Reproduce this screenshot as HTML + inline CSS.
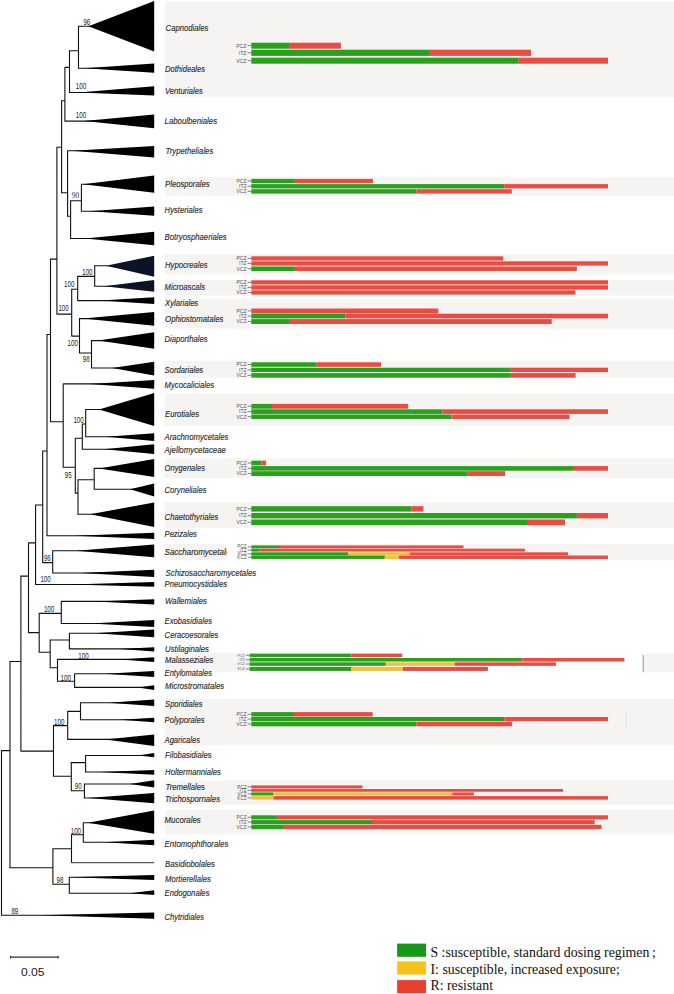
<!DOCTYPE html><html><head><meta charset="utf-8"><title>Phylogeny</title><style>
html,body{margin:0;padding:0;background:#fff;width:674px;height:994px;overflow:hidden}
svg{display:block}
.lb{font-family:"Liberation Sans",sans-serif;font-style:italic;font-size:9.7px;fill:#2a2a2a;stroke:#2a2a2a;stroke-width:0.15px}
.bs{font-family:"Liberation Sans",sans-serif;font-size:8.3px;fill:#222}
.bl{font-family:"Liberation Sans",sans-serif;fill:#555}
.lg{font-family:"Liberation Serif",serif;font-size:13.8px;fill:#111}
</style></head><body>
<svg width="674" height="994" viewBox="0 0 674 994">
<rect x="165" y="1.3" width="509" height="95.5" fill="#f5f4f2"/>
<rect x="165" y="177.1" width="509" height="18.7" fill="#f5f4f2"/>
<rect x="165" y="254" width="509" height="20.5" fill="#f5f4f2"/>
<rect x="165" y="279.9" width="509" height="15.7" fill="#f5f4f2"/>
<rect x="165" y="298.6" width="509" height="29.9" fill="#f5f4f2"/>
<rect x="165" y="360.9" width="509" height="17.1" fill="#f5f4f2"/>
<rect x="165" y="393.3" width="509" height="32.7" fill="#f5f4f2"/>
<rect x="165" y="458.5" width="509" height="19.5" fill="#f5f4f2"/>
<rect x="165" y="502" width="509" height="25.8" fill="#f5f4f2"/>
<rect x="165" y="544" width="509" height="16.3" fill="#f5f4f2"/>
<rect x="165" y="652.7" width="84.5" height="19.6" fill="#f5f4f2"/>
<rect x="643.5" y="653.6" width="30.5" height="18.7" fill="#f5f4f2"/>
<rect x="165" y="699" width="509" height="46.3" fill="#f5f4f2"/>
<rect x="165" y="780.5" width="509" height="24" fill="#f5f4f2"/>
<rect x="165" y="809.8" width="509" height="24.4" fill="#f5f4f2"/>
<rect x="226.5" y="544" width="24.8" height="16.3" fill="#fff"/>
<path d="M1.5 750.1V915.7M10 661V868.3M20.9 575.6V751.6M28.5 542.4V633.1M35.6 504.5V585M42.7 450.5V563.1M47 334V536.3M50.5 258.6V422.2M56.9 146.7V314.6M61.6 100.2V193.3M64.9 66.9V121.6M69.5 50.2V93M78.5 25.8V68.7M67.6 150.3V216.8M70.6 200.3V239M81.4 183.7V211.8M71.7 288.8V336.6M77.7 275.9V301.1M94.7 265.3V286.8M79.5 318.1V353.5M91.5 340.1V368.5M63.2 383.4V467.8M75.3 437.8V493.6M82.3 423.5V449.7M85.7 409V437.2M78 479.3V514.7M94.2 467.9V489.8M52.7 550.2V573.5M39.2 612.9V652.8M61.3 600.9V624M50.2 639.5V668.2M69.4 632.8V649.4M57.5 658.9V681.7M74.6 673.3V687.9M53.5 725.1V776.8M67.7 710.9V739.9M80.5 702.3V720.2M71.3 762.1V791.3M85.6 755V772.5M84.4 783.5V798.5M52.9 848.3V884.8M71.5 834.3V863.1M83.3 822.2V842.8M69.3 876.7V893.8M1.5 750.6H10M10 661.5H20.9M10 867.8H52.9M20.9 576.1H28.5M20.9 751.1H53.5M28.5 542.9H35.6M28.5 632.6H39.2M35.6 505H42.7M42.7 451H47M42.7 562.6H52.7M47 334.5H50.5M50.5 259.1H56.9M50.5 421.7H63.2M56.9 147.2H61.6M56.9 314.1H71.7M61.6 100.7H64.9M61.6 192.8H67.6M64.9 67.4H69.5M69.5 50.7H78.5M67.6 216.3H70.6M70.6 200.8H81.4M71.7 289.3H77.7M71.7 336.1H79.5M77.7 276.4H94.7M79.5 353H91.5M63.2 467.3H75.3M75.3 438.3H82.3M75.3 493.1H78M82.3 424H85.7M78 479.8H94.2M39.2 613.4H61.3M39.2 652.3H50.2M50.2 640H69.4M50.2 667.7H57.5M57.5 681.2H74.6M53.5 725.6H67.7M53.5 776.3H71.3M67.7 711.4H80.5M71.3 762.6H85.6M71.3 790.8H84.4M52.9 848.8H71.5M52.9 884.3H69.3M71.5 834.8H83.3M78.5 26.3H154.2M78.5 68.2H154.2M69.5 92.5H154.2M64.9 121.1H154.2M67.6 150.8H154.2M81.4 184.2H154.2M81.4 211.3H154.2M70.6 238.5H154.2M94.7 265.8H154.2M94.7 286.3H154.2M77.7 300.6H154.2M79.5 318.6H154.2M91.5 340.6H154.2M91.5 368H154.2M63.2 383.9H154.2M85.7 409.5H154.2M85.7 436.7H154.2M82.3 449.2H154.2M94.2 468.4H154.2M94.2 489.3H154.2M78 514.2H154.2M47 535.8H154.2M52.7 550.7H154.2M52.7 573H154.2M35.6 584.5H154.2M61.3 601.4H154.2M61.3 623.5H154.2M69.4 633.3H154.2M69.4 648.9H154.2M57.5 659.4H154.2M74.6 673.8H154.2M74.6 687.4H154.2M80.5 702.8H154.2M80.5 719.7H154.2M67.7 739.4H154.2M85.6 755.5H154.2M85.6 772H154.2M84.4 784H154.2M84.4 798H154.2M83.3 822.7H154.2M83.3 842.3H154.2M69.3 877.2H154.2M69.3 893.3H154.2M1.5 915.2H154.2" stroke="#111" stroke-width="1.1" fill="none"/>
<path d="M71.5 862.6H154.2" stroke="#555" stroke-width="1.3" fill="none"/>
<polygon points="88.4,26.3 154.2,0.9 154.2,51.5" fill="#000"/>
<polygon points="84,68.2 154.2,63.4 154.2,72.7" fill="#000"/>
<polygon points="78,92.5 154.2,86.2 154.2,95.5" fill="#000"/>
<polygon points="84,121.1 154.2,114.5 154.2,128.2" fill="#000"/>
<polygon points="72,150.8 154.2,146 154.2,157.5" fill="#000"/>
<polygon points="83,184.2 154.2,175.4 154.2,192.7" fill="#000"/>
<polygon points="90,211.3 154.2,206.5 154.2,215.8" fill="#000"/>
<polygon points="85,238.5 154.2,231.7 154.2,245.2" fill="#000"/>
<polygon points="106,265.8 154.2,255.7 154.2,276.7" fill="#0b1326"/>
<polygon points="104,286.3 154.2,280 154.2,291.8" fill="#0b1326"/>
<polygon points="100,300.6 154.2,297.2 154.2,304" fill="#000"/>
<polygon points="83,318.6 154.2,312 154.2,325.7" fill="#000"/>
<polygon points="98,340.6 154.2,332.2 154.2,348.8" fill="#000"/>
<polygon points="112,368 154.2,361.8 154.2,375.5" fill="#000"/>
<polygon points="90,383.9 154.2,380 154.2,388.7" fill="#000"/>
<polygon points="99,409.5 154.2,393.1 154.2,425.9" fill="#000"/>
<polygon points="106,436.7 154.2,433.3 154.2,441" fill="#000"/>
<polygon points="104,449.2 154.2,444.3 154.2,453.9" fill="#000"/>
<polygon points="99,468.4 154.2,459.1 154.2,477" fill="#000"/>
<polygon points="130,489.3 154.2,483.5 154.2,496.5" fill="#000"/>
<polygon points="90,514.2 154.2,502.5 154.2,527" fill="#000"/>
<polygon points="75,535.8 154.2,532.7 154.2,538.9" fill="#000"/>
<polygon points="76,550.7 154.2,544.6 154.2,557.2" fill="#000"/>
<polygon points="80,573 154.2,569.7 154.2,576.9" fill="#000"/>
<polygon points="70,584.5 154.2,582.1 154.2,586.8" fill="#000"/>
<polygon points="95,601.4 154.2,599.3 154.2,604.5" fill="#000"/>
<polygon points="90,623.5 154.2,620 154.2,627" fill="#000"/>
<polygon points="95,633.3 154.2,629.4 154.2,637.3" fill="#000"/>
<polygon points="120,648.9 154.2,647.2 154.2,651.5" fill="#000"/>
<polygon points="120,659.4 154.2,657.2 154.2,662" fill="#000"/>
<polygon points="105,673.8 154.2,671 154.2,676.9" fill="#000"/>
<polygon points="138,687.4 154.2,685.2 154.2,690" fill="#000"/>
<polygon points="108,702.8 154.2,699.6 154.2,706" fill="#000"/>
<polygon points="120,719.7 154.2,717.7 154.2,722.3" fill="#000"/>
<polygon points="105,739.4 154.2,734.5 154.2,745.9" fill="#000"/>
<polygon points="138,755.5 154.2,753 154.2,757.3" fill="#000"/>
<polygon points="100,772 154.2,770 154.2,774.8" fill="#000"/>
<polygon points="130,784 154.2,780.3 154.2,787.4" fill="#000"/>
<polygon points="88,798 154.2,792.9 154.2,803.3" fill="#000"/>
<polygon points="88,822.7 154.2,810.4 154.2,833.7" fill="#000"/>
<polygon points="104,842.3 154.2,839.7 154.2,845.2" fill="#000"/>
<polygon points="69.5,877.2 154.2,874.9 154.2,880.1" fill="#000"/>
<polygon points="130,893.3 154.2,890.3 154.2,895" fill="#000"/>
<polygon points="40,915.2 154.2,912.4 154.2,918.8" fill="#000"/>
<text class="bs" x="83.4" y="24.5" textLength="6.9" lengthAdjust="spacingAndGlyphs">96</text>
<text class="bs" x="75.8" y="89" textLength="10.4" lengthAdjust="spacingAndGlyphs">100</text>
<text class="bs" x="75.8" y="117.5" textLength="10.4" lengthAdjust="spacingAndGlyphs">100</text>
<text x="71.7" y="198.3" textLength="7.4" lengthAdjust="spacingAndGlyphs" style="font-family:'Liberation Serif',serif;font-size:8.6px;fill:#222">90</text>
<text class="bs" x="82.2" y="275" textLength="10.4" lengthAdjust="spacingAndGlyphs">100</text>
<text class="bs" x="64" y="287.4" textLength="10.4" lengthAdjust="spacingAndGlyphs">100</text>
<text class="bs" x="58.4" y="311.4" textLength="10.4" lengthAdjust="spacingAndGlyphs">100</text>
<text class="bs" x="67.6" y="346.1" textLength="10.4" lengthAdjust="spacingAndGlyphs">100</text>
<text class="bs" x="82.7" y="362.2" textLength="6.9" lengthAdjust="spacingAndGlyphs">98</text>
<text class="bs" x="73.4" y="423" textLength="10.4" lengthAdjust="spacingAndGlyphs">100</text>
<text class="bs" x="64.7" y="477.6" textLength="6.9" lengthAdjust="spacingAndGlyphs">95</text>
<text class="bs" x="43.9" y="560.7" textLength="6.9" lengthAdjust="spacingAndGlyphs">96</text>
<text class="bs" x="40.4" y="581.6" textLength="10.4" lengthAdjust="spacingAndGlyphs">100</text>
<text class="bs" x="43.9" y="612.1" textLength="10.4" lengthAdjust="spacingAndGlyphs">100</text>
<text class="bs" x="78.3" y="659.1" textLength="10.4" lengthAdjust="spacingAndGlyphs">100</text>
<text class="bs" x="60.5" y="680.5" textLength="10.4" lengthAdjust="spacingAndGlyphs">100</text>
<text class="bs" x="54.1" y="724.5" textLength="10.4" lengthAdjust="spacingAndGlyphs">100</text>
<text class="bs" x="74.8" y="789" textLength="6.9" lengthAdjust="spacingAndGlyphs">90</text>
<text class="bs" x="70.7" y="833.7" textLength="10.4" lengthAdjust="spacingAndGlyphs">100</text>
<text class="bs" x="56.5" y="883.2" textLength="6.9" lengthAdjust="spacingAndGlyphs">98</text>
<text class="bs" x="11.4" y="914" textLength="6.9" lengthAdjust="spacingAndGlyphs">89</text>
<text class="lb" x="165.6" y="31" textLength="42.7" lengthAdjust="spacingAndGlyphs">Capnodiales</text>
<text class="lb" x="165.1" y="71.6" textLength="39.9" lengthAdjust="spacingAndGlyphs">Dothideales</text>
<text class="lb" x="165.1" y="94.3" textLength="37.6" lengthAdjust="spacingAndGlyphs">Venturiales</text>
<text class="lb" x="164.6" y="123.6" textLength="52.5" lengthAdjust="spacingAndGlyphs">Laboulbeniales</text>
<text class="lb" x="165.6" y="154.4" textLength="47.7" lengthAdjust="spacingAndGlyphs">Trypetheliales</text>
<text class="lb" x="165.1" y="186.7" textLength="44.4" lengthAdjust="spacingAndGlyphs">Pleosporales</text>
<text class="lb" x="164.6" y="212.9" textLength="37.9" lengthAdjust="spacingAndGlyphs">Hysteriales</text>
<text class="lb" x="164.6" y="240.2" textLength="62.1" lengthAdjust="spacingAndGlyphs">Botryosphaeriales</text>
<text class="lb" x="165.1" y="267.7" textLength="42.4" lengthAdjust="spacingAndGlyphs">Hypocreales</text>
<text class="lb" x="164.6" y="289.7" textLength="40.4" lengthAdjust="spacingAndGlyphs">Microascals</text>
<text class="lb" x="165.1" y="306.1" textLength="33.1" lengthAdjust="spacingAndGlyphs">Xylariales</text>
<text class="lb" x="165.1" y="321.7" textLength="58.3" lengthAdjust="spacingAndGlyphs">Ophiostomatales</text>
<text class="lb" x="164.6" y="341.9" textLength="42.9" lengthAdjust="spacingAndGlyphs">Diaporthales</text>
<text class="lb" x="164.6" y="372.9" textLength="38.6" lengthAdjust="spacingAndGlyphs">Sordariales</text>
<text class="lb" x="164.6" y="388.1" textLength="49.4" lengthAdjust="spacingAndGlyphs">Mycocaliciales</text>
<text class="lb" x="165.1" y="417.1" textLength="33.9" lengthAdjust="spacingAndGlyphs">Eurotiales</text>
<text class="lb" x="164.6" y="440.3" textLength="63.8" lengthAdjust="spacingAndGlyphs">Arachnomycetales</text>
<text class="lb" x="164.6" y="452.9" textLength="61.3" lengthAdjust="spacingAndGlyphs">Ajellomycetaceae</text>
<text class="lb" x="164.6" y="471.3" textLength="40.4" lengthAdjust="spacingAndGlyphs">Onygenales</text>
<text class="lb" x="164.6" y="493.2" textLength="41.9" lengthAdjust="spacingAndGlyphs">Coryneliales</text>
<text class="lb" x="164.6" y="519.7" textLength="53.8" lengthAdjust="spacingAndGlyphs">Chaetothyriales</text>
<text class="lb" x="164.6" y="537.3" textLength="32.3" lengthAdjust="spacingAndGlyphs">Pezizales</text>
<svg x="0" y="0" width="226.6" height="994" overflow="hidden"><text class="lb" x="164.6" y="555" textLength="69.5" lengthAdjust="spacingAndGlyphs">Saccharomycetales</text></svg>
<text class="lb" x="165.6" y="576.4" textLength="90.6" lengthAdjust="spacingAndGlyphs">Schizosaccharomycetales</text>
<text class="lb" x="164.6" y="587" textLength="62.6" lengthAdjust="spacingAndGlyphs">Pneumocystidales</text>
<text class="lb" x="165.1" y="604.4" textLength="41.9" lengthAdjust="spacingAndGlyphs">Wallemiales</text>
<text class="lb" x="164.6" y="623.8" textLength="47.4" lengthAdjust="spacingAndGlyphs">Exobasidiales</text>
<text class="lb" x="164.6" y="637.9" textLength="53.8" lengthAdjust="spacingAndGlyphs">Ceracoesorales</text>
<text class="lb" x="165.1" y="652.3" textLength="43.9" lengthAdjust="spacingAndGlyphs">Ustilaginales</text>
<text class="lb" x="165.1" y="663.1" textLength="48.2" lengthAdjust="spacingAndGlyphs">Malasseziales</text>
<text class="lb" x="164.6" y="675.7" textLength="47.4" lengthAdjust="spacingAndGlyphs">Entylomatales</text>
<text class="lb" x="165.1" y="688.9" textLength="59.1" lengthAdjust="spacingAndGlyphs">Microstromatales</text>
<text class="lb" x="165.1" y="706.5" textLength="37.4" lengthAdjust="spacingAndGlyphs">Sporidiales</text>
<text class="lb" x="164.6" y="722.9" textLength="39.9" lengthAdjust="spacingAndGlyphs">Polyporales</text>
<text class="lb" x="164.6" y="743.1" textLength="35.4" lengthAdjust="spacingAndGlyphs">Agaricales</text>
<text class="lb" x="165.1" y="758.2" textLength="46.4" lengthAdjust="spacingAndGlyphs">Filobasidiales</text>
<text class="lb" x="165.1" y="774.5" textLength="55.8" lengthAdjust="spacingAndGlyphs">Holtermanniales</text>
<text class="lb" x="165.6" y="789.7" textLength="39.4" lengthAdjust="spacingAndGlyphs">Tremellales</text>
<text class="lb" x="165.1" y="802.3" textLength="55" lengthAdjust="spacingAndGlyphs">Trichospornales</text>
<text class="lb" x="164.6" y="823.2" textLength="36.1" lengthAdjust="spacingAndGlyphs">Mucorales</text>
<text class="lb" x="164.6" y="846.5" textLength="63.8" lengthAdjust="spacingAndGlyphs">Entomophthorales</text>
<text class="lb" x="165.1" y="867.1" textLength="49.9" lengthAdjust="spacingAndGlyphs">Basidiobolales</text>
<text class="lb" x="165.1" y="881.7" textLength="45.7" lengthAdjust="spacingAndGlyphs">Mortierellales</text>
<text class="lb" x="164.6" y="895.6" textLength="44.9" lengthAdjust="spacingAndGlyphs">Endogonales</text>
<text class="lb" x="164.6" y="920.1" textLength="39.4" lengthAdjust="spacingAndGlyphs">Chytridiales</text>
<text class="bl" x="246.5" y="47.52" font-size="5.2" text-anchor="end">PCZ</text>
<path d="M247.5 45.65H251.3" stroke="#666" stroke-width="0.8"/>
<rect x="251.3" y="42.7" width="38.6" height="6" fill="#2ba01e"/>
<rect x="289.9" y="42.7" width="51" height="6" fill="#e84c43"/>
<text class="bl" x="246.5" y="54.62" font-size="5.2" text-anchor="end">ITZ</text>
<path d="M247.5 52.75H251.3" stroke="#666" stroke-width="0.8"/>
<rect x="251.3" y="49.7" width="178.6" height="6.2" fill="#2ba01e"/>
<rect x="429.9" y="49.7" width="101.1" height="6.2" fill="#e84c43"/>
<text class="bl" x="246.5" y="62.52" font-size="5.2" text-anchor="end">VCZ</text>
<path d="M247.5 60.65H251.3" stroke="#666" stroke-width="0.8"/>
<rect x="251.3" y="57.7" width="267.4" height="6" fill="#2ba01e"/>
<rect x="518.7" y="57.7" width="89.3" height="6" fill="#e84c43"/>
<text class="bl" x="246.5" y="182.8" font-size="5" text-anchor="end">PCZ</text>
<path d="M247.5 181H251.3" stroke="#666" stroke-width="0.8"/>
<rect x="251.3" y="178.9" width="43.6" height="4.3" fill="#2ba01e"/>
<rect x="294.9" y="178.9" width="78.1" height="4.3" fill="#e84c43"/>
<text class="bl" x="246.5" y="188" font-size="5" text-anchor="end">ITZ</text>
<path d="M247.5 186.2H251.3" stroke="#666" stroke-width="0.8"/>
<rect x="251.3" y="184.1" width="252.9" height="4.3" fill="#2ba01e"/>
<rect x="504.2" y="184.1" width="103.8" height="4.3" fill="#e84c43"/>
<text class="bl" x="246.5" y="193.15" font-size="5" text-anchor="end">VCZ</text>
<path d="M247.5 191.35H251.3" stroke="#666" stroke-width="0.8"/>
<rect x="251.3" y="189.2" width="165.3" height="4.4" fill="#2ba01e"/>
<rect x="416.6" y="189.2" width="95.2" height="4.4" fill="#e84c43"/>
<text class="bl" x="246.5" y="260.2" font-size="5" text-anchor="end">PCZ</text>
<path d="M247.5 258.4H251.3" stroke="#666" stroke-width="0.8"/>
<rect x="251.3" y="256.3" width="252" height="4.3" fill="#e84c43"/>
<text class="bl" x="246.5" y="265.2" font-size="5" text-anchor="end">ITZ</text>
<path d="M247.5 263.4H251.3" stroke="#666" stroke-width="0.8"/>
<rect x="251.3" y="261.3" width="356.7" height="4.3" fill="#e84c43"/>
<text class="bl" x="246.5" y="270.5" font-size="5" text-anchor="end">VCZ</text>
<path d="M247.5 268.7H251.3" stroke="#666" stroke-width="0.8"/>
<rect x="251.3" y="266.5" width="43.6" height="4.5" fill="#2ba01e"/>
<rect x="294.9" y="266.5" width="282" height="4.5" fill="#e84c43"/>
<text class="bl" x="246.5" y="284.15" font-size="5" text-anchor="end">PCZ</text>
<path d="M247.5 282.35H251.3" stroke="#666" stroke-width="0.8"/>
<rect x="251.3" y="280.3" width="356.7" height="4.2" fill="#e84c43"/>
<text class="bl" x="246.5" y="289.2" font-size="5" text-anchor="end">ITZ</text>
<path d="M247.5 287.4H251.3" stroke="#666" stroke-width="0.8"/>
<rect x="251.3" y="285.3" width="356.7" height="4.3" fill="#e84c43"/>
<text class="bl" x="246.5" y="294.2" font-size="5" text-anchor="end">VCZ</text>
<path d="M247.5 292.4H251.3" stroke="#666" stroke-width="0.8"/>
<rect x="251.3" y="290.3" width="324.1" height="4.3" fill="#e84c43"/>
<text class="bl" x="246.5" y="312.7" font-size="5" text-anchor="end">PCZ</text>
<path d="M247.5 310.9H251.3" stroke="#666" stroke-width="0.8"/>
<rect x="251.3" y="308.5" width="187" height="4.9" fill="#e84c43"/>
<text class="bl" x="246.5" y="317.8" font-size="5" text-anchor="end">ITZ</text>
<path d="M247.5 316H251.3" stroke="#666" stroke-width="0.8"/>
<rect x="251.3" y="313.7" width="94" height="4.7" fill="#2ba01e"/>
<rect x="345.3" y="313.7" width="262.7" height="4.7" fill="#e84c43"/>
<text class="bl" x="246.5" y="323.3" font-size="5" text-anchor="end">VCZ</text>
<path d="M247.5 321.5H251.3" stroke="#666" stroke-width="0.8"/>
<rect x="251.3" y="319.1" width="37.7" height="4.9" fill="#2ba01e"/>
<rect x="289" y="319.1" width="262.7" height="4.9" fill="#e84c43"/>
<text class="bl" x="246.5" y="366.3" font-size="5" text-anchor="end">PCZ</text>
<path d="M247.5 364.5H251.3" stroke="#666" stroke-width="0.8"/>
<rect x="251.3" y="362.3" width="65.3" height="4.5" fill="#2ba01e"/>
<rect x="316.6" y="362.3" width="64.4" height="4.5" fill="#e84c43"/>
<text class="bl" x="246.5" y="371.65" font-size="5" text-anchor="end">ITZ</text>
<path d="M247.5 369.85H251.3" stroke="#666" stroke-width="0.8"/>
<rect x="251.3" y="367.7" width="259.5" height="4.4" fill="#2ba01e"/>
<rect x="510.8" y="367.7" width="97.2" height="4.4" fill="#e84c43"/>
<text class="bl" x="246.5" y="377.15" font-size="5" text-anchor="end">VCZ</text>
<path d="M247.5 375.35H251.3" stroke="#666" stroke-width="0.8"/>
<rect x="251.3" y="373.1" width="259.5" height="4.6" fill="#2ba01e"/>
<rect x="510.8" y="373.1" width="64.8" height="4.6" fill="#e84c43"/>
<text class="bl" x="246.5" y="408.05" font-size="5" text-anchor="end">PCZ</text>
<path d="M247.5 406.25H251.3" stroke="#666" stroke-width="0.8"/>
<rect x="251.3" y="403.9" width="20.7" height="4.8" fill="#2ba01e"/>
<rect x="272" y="403.9" width="136.2" height="4.8" fill="#e84c43"/>
<text class="bl" x="246.5" y="413.35" font-size="5" text-anchor="end">ITZ</text>
<path d="M247.5 411.55H251.3" stroke="#666" stroke-width="0.8"/>
<rect x="251.3" y="409.3" width="191.2" height="4.6" fill="#2ba01e"/>
<rect x="442.5" y="409.3" width="165.5" height="4.6" fill="#e84c43"/>
<text class="bl" x="246.5" y="418.5" font-size="5" text-anchor="end">VCZ</text>
<path d="M247.5 416.7H251.3" stroke="#666" stroke-width="0.8"/>
<rect x="251.3" y="414.5" width="200.1" height="4.5" fill="#2ba01e"/>
<rect x="451.4" y="414.5" width="118.1" height="4.5" fill="#e84c43"/>
<text class="bl" x="246.5" y="464.8" font-size="5" text-anchor="end">PCZ</text>
<path d="M247.5 463H251.3" stroke="#666" stroke-width="0.8"/>
<rect x="251.3" y="460.7" width="10.1" height="4.7" fill="#2ba01e"/>
<rect x="261.4" y="460.7" width="4.7" height="4.7" fill="#e84c43"/>
<text class="bl" x="246.5" y="470.15" font-size="5" text-anchor="end">ITZ</text>
<path d="M247.5 468.35H251.3" stroke="#666" stroke-width="0.8"/>
<rect x="251.3" y="466.1" width="322.6" height="4.6" fill="#2ba01e"/>
<rect x="573.9" y="466.1" width="34.1" height="4.6" fill="#e84c43"/>
<text class="bl" x="246.5" y="475.35" font-size="5" text-anchor="end">VCZ</text>
<path d="M247.5 473.55H251.3" stroke="#666" stroke-width="0.8"/>
<rect x="251.3" y="471.2" width="215.8" height="4.8" fill="#2ba01e"/>
<rect x="467.1" y="471.2" width="38" height="4.8" fill="#e84c43"/>
<text class="bl" x="246.5" y="510.65" font-size="5" text-anchor="end">PCZ</text>
<path d="M247.5 508.85H251.3" stroke="#666" stroke-width="0.8"/>
<rect x="251.3" y="506.2" width="160.2" height="5.4" fill="#2ba01e"/>
<rect x="411.5" y="506.2" width="11.9" height="5.4" fill="#e84c43"/>
<text class="bl" x="246.5" y="517.45" font-size="5" text-anchor="end">ITZ</text>
<path d="M247.5 515.65H251.3" stroke="#666" stroke-width="0.8"/>
<rect x="251.3" y="513" width="325.6" height="5.4" fill="#2ba01e"/>
<rect x="576.9" y="513" width="31.1" height="5.4" fill="#e84c43"/>
<text class="bl" x="246.5" y="524.1" font-size="5" text-anchor="end">VCZ</text>
<path d="M247.5 522.3H251.3" stroke="#666" stroke-width="0.8"/>
<rect x="251.3" y="519.5" width="276.6" height="5.7" fill="#2ba01e"/>
<rect x="527.9" y="519.5" width="37.1" height="5.7" fill="#e84c43"/>
<text class="bl" x="246.5" y="548.46" font-size="4.6" text-anchor="end">PCZ</text>
<path d="M247.5 546.8H251.3" stroke="#666" stroke-width="0.8"/>
<rect x="251.3" y="545.4" width="28.7" height="2.85" fill="#2ba01e"/>
<rect x="280" y="545.4" width="183.5" height="2.85" fill="#e84c43"/>
<text class="bl" x="246.5" y="551.76" font-size="4.6" text-anchor="end">ITZ</text>
<path d="M247.5 550.1H251.3" stroke="#666" stroke-width="0.8"/>
<rect x="251.3" y="548.7" width="8" height="2.85" fill="#2ba01e"/>
<rect x="259.3" y="548.7" width="265.7" height="2.85" fill="#e84c43"/>
<text class="bl" x="246.5" y="555.46" font-size="4.6" text-anchor="end">VCZ</text>
<path d="M247.5 553.8H251.3" stroke="#666" stroke-width="0.8"/>
<rect x="251.3" y="552.3" width="97" height="3.05" fill="#2ba01e"/>
<rect x="348.3" y="552.3" width="61.4" height="3.05" fill="#f0c23a"/>
<rect x="409.7" y="552.3" width="158.3" height="3.05" fill="#e84c43"/>
<text class="bl" x="246.5" y="558.86" font-size="4.6" text-anchor="end">KCZ</text>
<path d="M247.5 557.2H251.3" stroke="#666" stroke-width="0.8"/>
<rect x="251.3" y="555.5" width="133.5" height="3.45" fill="#2ba01e"/>
<rect x="384.8" y="555.5" width="14" height="3.45" fill="#f0c23a"/>
<rect x="398.8" y="555.5" width="209.2" height="3.45" fill="#e84c43"/>
<text class="bl" x="244.8" y="656.6" font-size="3.6" text-anchor="end">PCZ</text>
<path d="M245.8 655.3H249.6" stroke="#666" stroke-width="0.8"/>
<rect x="249.6" y="653.6" width="101.9" height="3.45" fill="#2ba01e"/>
<rect x="351.5" y="653.6" width="50.8" height="3.45" fill="#e84c43"/>
<text class="bl" x="244.8" y="661.05" font-size="3.6" text-anchor="end">ITZ</text>
<path d="M245.8 659.75H249.6" stroke="#666" stroke-width="0.8"/>
<rect x="249.6" y="658" width="272.7" height="3.55" fill="#2ba01e"/>
<rect x="522.3" y="658" width="102.1" height="3.55" fill="#e84c43"/>
<text class="bl" x="244.8" y="665.35" font-size="3.6" text-anchor="end">VCZ</text>
<path d="M245.8 664.05H249.6" stroke="#666" stroke-width="0.8"/>
<rect x="249.6" y="662.3" width="136.2" height="3.55" fill="#2ba01e"/>
<rect x="385.8" y="662.3" width="68.8" height="3.55" fill="#f0c23a"/>
<rect x="454.6" y="662.3" width="101.4" height="3.55" fill="#e84c43"/>
<text class="bl" x="244.8" y="670.2" font-size="3.6" text-anchor="end">KCZ</text>
<path d="M245.8 668.9H249.6" stroke="#666" stroke-width="0.8"/>
<rect x="249.6" y="666.9" width="101.9" height="4.05" fill="#2ba01e"/>
<rect x="351.5" y="666.9" width="51.4" height="4.05" fill="#f0c23a"/>
<rect x="402.9" y="666.9" width="85" height="4.05" fill="#e84c43"/>
<text class="bl" x="246.5" y="716.05" font-size="5" text-anchor="end">PCZ</text>
<path d="M247.5 714.25H251.3" stroke="#666" stroke-width="0.8"/>
<rect x="251.3" y="712.1" width="42.6" height="4.4" fill="#2ba01e"/>
<rect x="293.9" y="712.1" width="78.8" height="4.4" fill="#e84c43"/>
<text class="bl" x="246.5" y="720.85" font-size="5" text-anchor="end">ITZ</text>
<path d="M247.5 719.05H251.3" stroke="#666" stroke-width="0.8"/>
<rect x="251.3" y="717" width="252.9" height="4.2" fill="#2ba01e"/>
<rect x="504.2" y="717" width="103.9" height="4.2" fill="#e84c43"/>
<text class="bl" x="246.5" y="725.8" font-size="5" text-anchor="end">VCZ</text>
<path d="M247.5 724H251.3" stroke="#666" stroke-width="0.8"/>
<rect x="251.3" y="721.8" width="165" height="4.5" fill="#2ba01e"/>
<rect x="416.3" y="721.8" width="95.9" height="4.5" fill="#e84c43"/>
<text class="bl" x="246.5" y="788.56" font-size="4.6" text-anchor="end">PCZ</text>
<path d="M247.5 786.9H251.3" stroke="#666" stroke-width="0.8"/>
<rect x="251.3" y="785.4" width="111.2" height="3.05" fill="#e84c43"/>
<text class="bl" x="246.5" y="792.01" font-size="4.6" text-anchor="end">ITZ</text>
<path d="M247.5 790.35H251.3" stroke="#666" stroke-width="0.8"/>
<rect x="251.3" y="789" width="311.7" height="2.75" fill="#e84c43"/>
<text class="bl" x="246.5" y="795.56" font-size="4.6" text-anchor="end">VCZ</text>
<path d="M247.5 793.9H251.3" stroke="#666" stroke-width="0.8"/>
<rect x="251.3" y="792.4" width="22.2" height="3.05" fill="#2ba01e"/>
<rect x="273.5" y="792.4" width="178.8" height="3.05" fill="#f0c23a"/>
<rect x="452.3" y="792.4" width="21.6" height="3.05" fill="#e84c43"/>
<text class="bl" x="246.5" y="799.51" font-size="4.6" text-anchor="end">KCZ</text>
<path d="M247.5 797.85H251.3" stroke="#666" stroke-width="0.8"/>
<rect x="251.3" y="796.1" width="22.2" height="3.55" fill="#f0c23a"/>
<rect x="273.5" y="796.1" width="334.5" height="3.55" fill="#e84c43"/>
<text class="bl" x="246.5" y="819.1" font-size="5" text-anchor="end">PCZ</text>
<path d="M247.5 817.3H251.3" stroke="#666" stroke-width="0.8"/>
<rect x="251.3" y="815.3" width="25.8" height="4.1" fill="#2ba01e"/>
<rect x="277.1" y="815.3" width="330.9" height="4.1" fill="#e84c43"/>
<text class="bl" x="246.5" y="823.9" font-size="5" text-anchor="end">ITZ</text>
<path d="M247.5 822.1H251.3" stroke="#666" stroke-width="0.8"/>
<rect x="251.3" y="820.1" width="120.7" height="4.1" fill="#2ba01e"/>
<rect x="372" y="820.1" width="222.7" height="4.1" fill="#e84c43"/>
<text class="bl" x="246.5" y="828.75" font-size="5" text-anchor="end">VCZ</text>
<path d="M247.5 826.95H251.3" stroke="#666" stroke-width="0.8"/>
<rect x="251.3" y="824.8" width="31.7" height="4.4" fill="#2ba01e"/>
<rect x="283" y="824.8" width="318.5" height="4.4" fill="#e84c43"/>
<path d="M643.2 655V672.3" stroke="#888" stroke-width="0.9"/>
<path d="M625.8 711V727" stroke="#e0e0e0" stroke-width="0.8"/>
<path d="M10.1 957.2H58.6" stroke="#333" stroke-width="1.2"/>
<path d="M10.6 955.8V958.6M58.1 955.8V958.6" stroke="#333" stroke-width="1"/>
<text x="20.9" y="976.1" textLength="23.6" lengthAdjust="spacingAndGlyphs" style="font-family:'Liberation Sans',sans-serif;font-size:11.6px;fill:#222">0.05</text>
<rect x="397.1" y="943.6" width="29" height="13.2" fill="#16991a"/>
<rect x="397.1" y="961.4" width="29" height="13.2" fill="#f8c21c"/>
<rect x="397.1" y="980.1" width="29" height="13.2" fill="#e6402e"/>
<text class="lg" x="430.5" y="956.8">S :susceptible, standard dosing regimen&#8201;;</text>
<text class="lg" x="430.5" y="974.0">I: susceptible, increased exposure;</text>
<text class="lg" x="430.5" y="990.2">R: resistant</text>
</svg></body></html>
